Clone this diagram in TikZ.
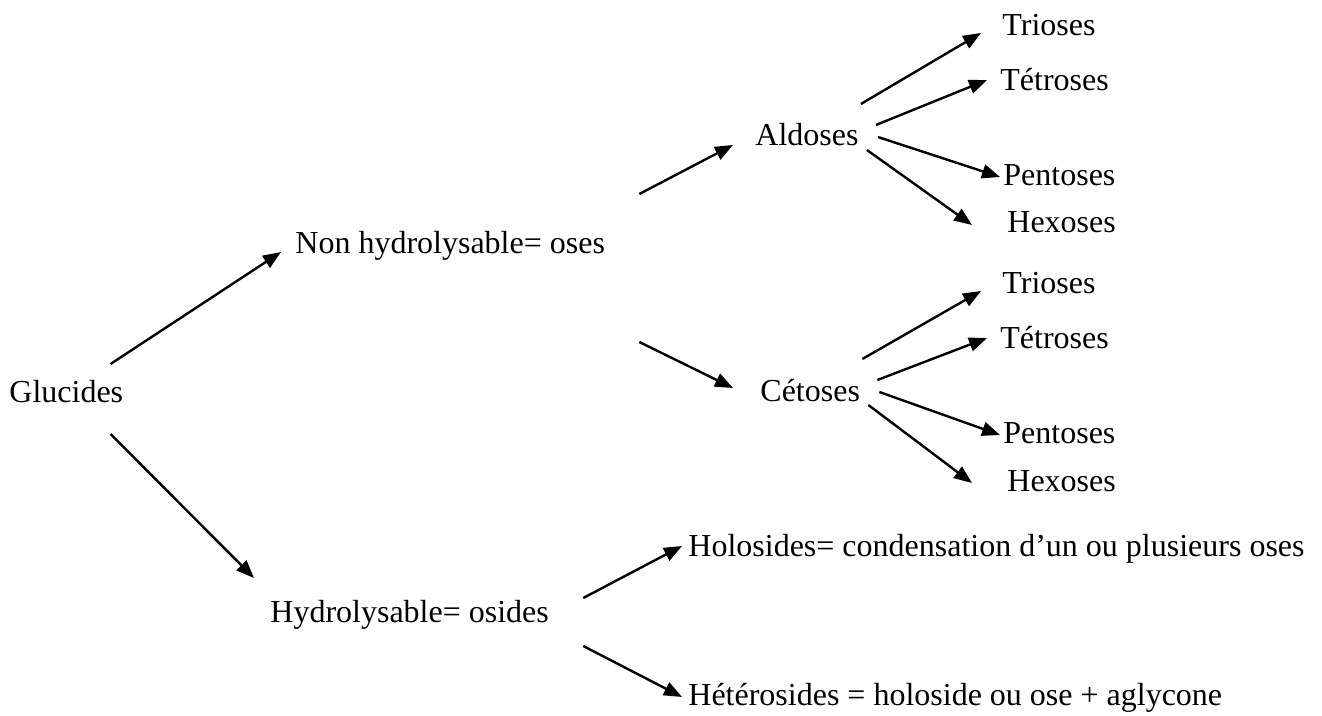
\documentclass[tikz,border=0pt]{standalone}
\usepackage{fontspec}
\setmainfont{Liberation Serif}
\usetikzlibrary{arrows.meta}
\tikzset{
    lbl/.style={anchor=base west, inner sep=0pt, font=\fontsize{16}{19}\selectfont},
    arr/.style={line width=1.2pt, -{Triangle[length=9pt,width=7pt]}}
}
\begin{document}
\begin{tikzpicture}[x=0.5pt, y=-0.5pt]
            \useasboundingbox (0,0) rectangle (1322,716);
            % Labels
            \node[lbl] (glu) at (9,402) {Glucides};
            \node[lbl] (nonhyd) at (295,254) {Non hydrolysable= oses};
            \node[lbl] (hyd) at (270,622) {Hydrolysable= osides};
            \node[lbl] (ald) at (755,146) {Aldoses};
            \node[lbl] (cet) at (760,401) {Cétoses};
            \node[lbl] (holo) at (688,556) {Holosides= condensation d’un ou plusieurs oses};
            \node[lbl] (hetero) at (688,705) {Hétérosides = holoside ou ose + aglycone};
            % Main branches
            \draw[arr] ([shift={(-13,-38)}]glu.base east) -- ([shift={(-14,-2)}]nonhyd.base west);
            \draw[arr] ([shift={(-13,32)}]glu.base east) -- ([shift={(-16,-44)}]hyd.base west);
            \draw[arr] ([shift={(34,-60)}]nonhyd.base east) -- ([shift={(-22,-1)}]ald.base west);
            \draw[arr] ([shift={(34,88)}]nonhyd.base east) -- ([shift={(-27,-13)}]cet.base west);
            \draw[arr] ([shift={(34,-24)}]hyd.base east) -- ([shift={(-6,-10)}]holo.base west);
            \draw[arr] ([shift={(34,24)}]hyd.base east) -- ([shift={(-6,-8)}]hetero.base west);
            % Oses by number of carbons
            \foreach \src/\sfx/\dy in {ald/a/0, cet/c/258} {
                \node[lbl] (tri\sfx) at (1002,{36+\dy}) {Trioses};
                \node[lbl] (tet\sfx) at (1000,{91+\dy}) {Tétroses};
                \node[lbl] (pen\sfx) at (1003,{186+\dy}) {Pentoses};
                \node[lbl] (hex\sfx) at (1007,{233+\dy}) {Hexoses};
                \draw[arr] ([shift={(2,-42)}]\src.base east) -- ([shift={(-21,-3)}]tri\sfx.base west);
                \draw[arr] ([shift={(17,-21)}]\src.base east) -- ([shift={(-13,-11)}]tet\sfx.base west);
                \draw[arr] ([shift={(19,-9)}]\src.base east) -- ([shift={(-3,-9)}]pen\sfx.base west);
                \draw[arr] ([shift={(8,4)}]\src.base east) -- ([shift={(-35,-8)}]hex\sfx.base west);
            }
        \end{tikzpicture}
\end{document}
